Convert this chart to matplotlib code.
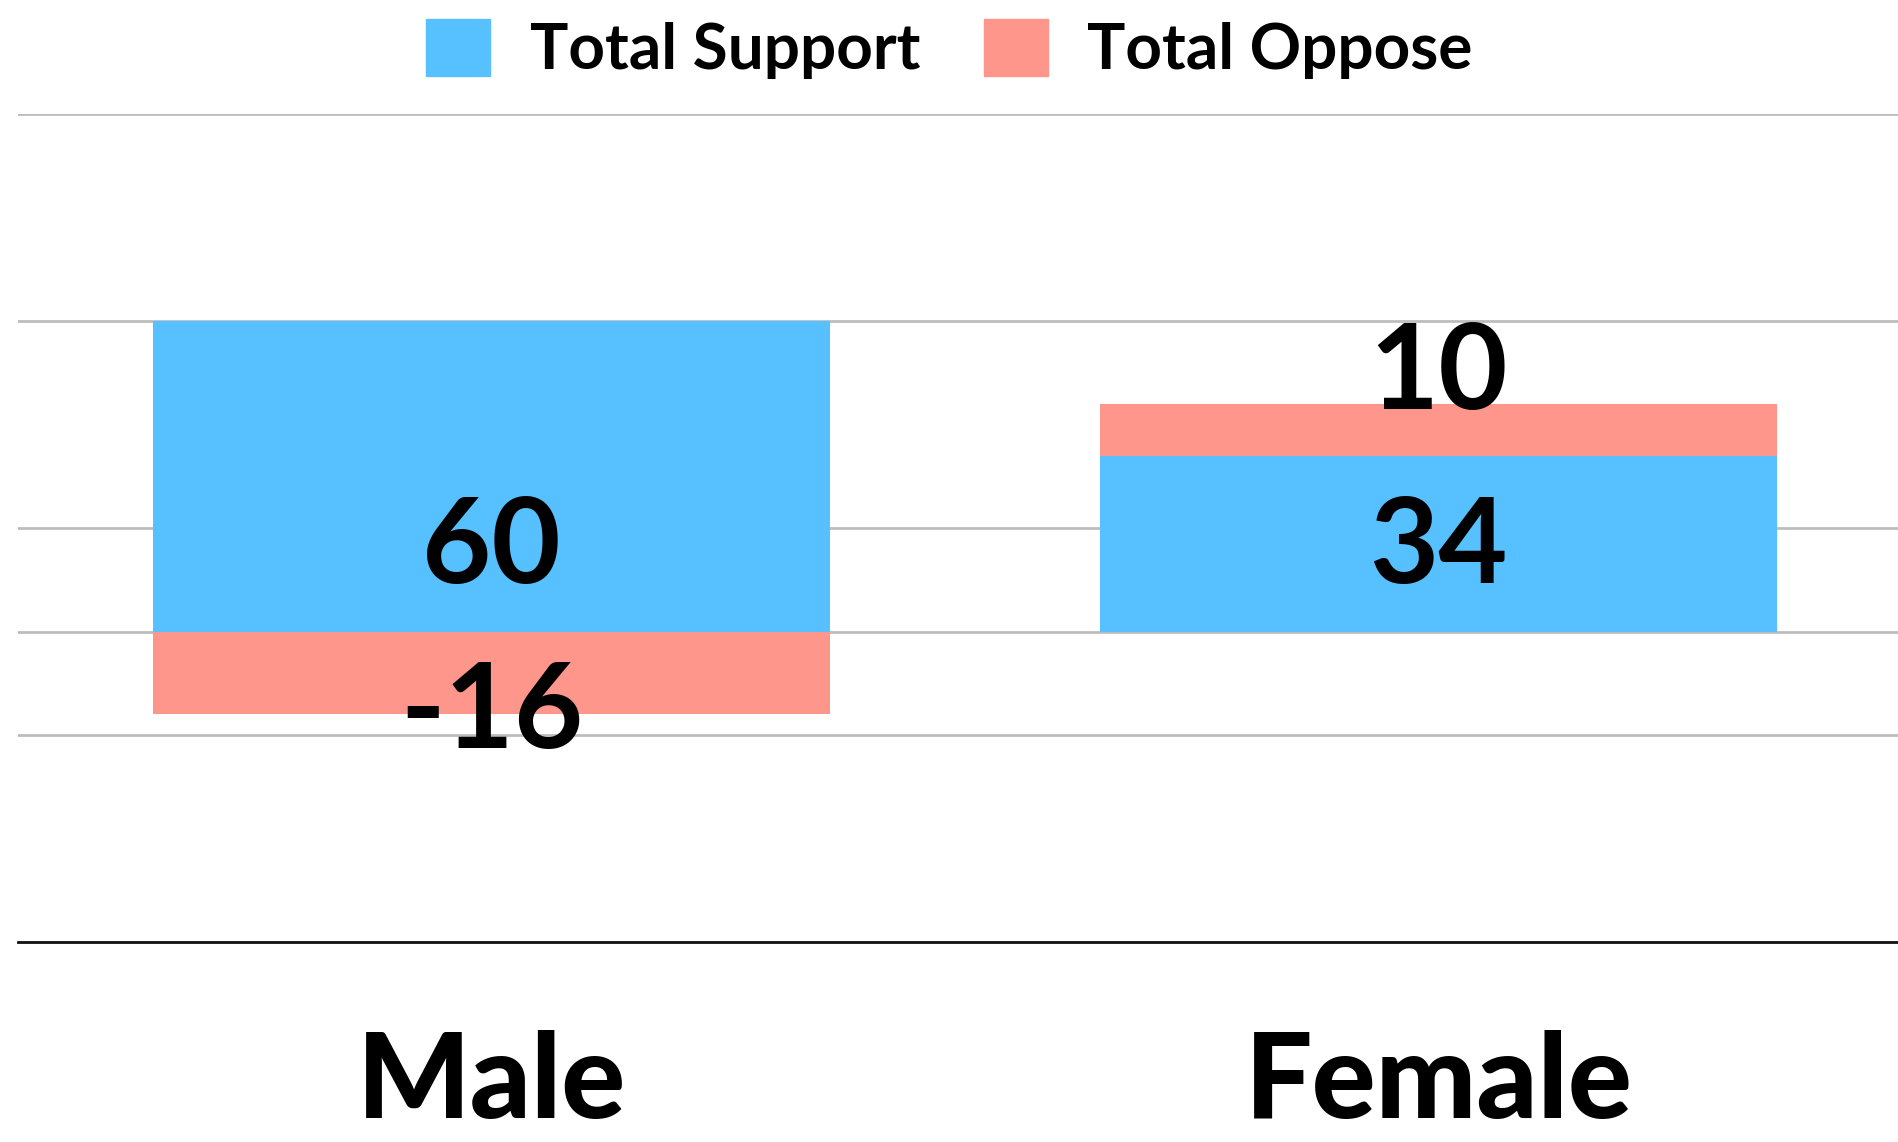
import matplotlib
matplotlib.use("Agg")
import matplotlib.pyplot as plt
from matplotlib.patches import Patch
import matplotlib.transforms as mtransforms

plt.rcParams['font.family'] = ['Lato', 'DejaVu Sans']

categories = ["Male", "Female"]
support = [60, 34]
oppose = [-16, 10]
gridlines = [-20, 0, 20, 60, 100]
series_names = ["Total Support", "Total Oppose"]

BLUE = "#57C0FF"
SALMON = "#FF968C"

fig = plt.figure(figsize=(18.99, 11.42), dpi=100)
ax = fig.add_axes([18 / 1899, 1 - 942 / 1142, 1894 / 1899, (942 - 114) / 1142])

x = list(range(len(categories)))
width = 0.715
ax.bar(x, support, width=width, color=BLUE, zorder=2)
bottoms = [s if o > 0 else 0 for s, o in zip(support, oppose)]
ax.bar(x, oppose, width=width, bottom=bottoms, color=SALMON, zorder=2)

for g in gridlines:
    ax.axhline(g, color="#BDBDBD", lw=2, zorder=1)
ax.axhline(-60, color="#111111", lw=2, zorder=3, clip_on=False)

ax.set_xlim(-0.5, 1.5)
ax.set_ylim(-60, 100)
ax.set_xticks([])
ax.set_yticks([])
for s in ax.spines.values():
    s.set_visible(False)

# value labels
NUM_WEIGHT = "bold"
for xi, s, o, b in zip(x, support, oppose, bottoms):
    ax.text(xi, 9.3, f"{s}", ha="center", va="baseline", fontsize=86,
            fontweight=NUM_WEIGHT, zorder=4)
    if o < 0:
        ax.text(xi, b + o, f"{o}", ha="center", va="center", fontsize=86,
                fontweight=NUM_WEIGHT, zorder=4)
    else:
        ax.text(xi, b + o - 1, f"{o}", ha="center", va="baseline", fontsize=86,
                fontweight=NUM_WEIGHT, zorder=4)

# category labels
trans = mtransforms.blended_transform_factory(ax.transData, ax.transAxes)
for xi, c in zip(x, categories):
    ax.text(xi, -0.212, c, transform=trans, ha="center", va="baseline",
            fontsize=86, fontweight="black")

handles = [Patch(color=BLUE, label=series_names[0]),
           Patch(color=SALMON, label=series_names[1])]
fig.legend(handles=handles, loc="center", bbox_to_anchor=(0.5, 1 - 49 / 1142),
           ncol=2, frameon=False, handlelength=1.0, handleheight=1.0,
           handletextpad=0.62, columnspacing=1.0, borderaxespad=0, borderpad=0,
           prop={"family": ["Lato", "DejaVu Sans"], "size": 46, "weight": "bold"})

fig.savefig("out.png", dpi=100)
